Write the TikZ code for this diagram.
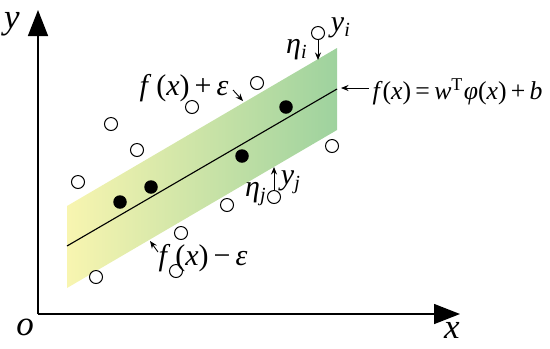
\documentclass[tikz,border=0pt]{standalone}
\usepackage{fontspec}
\setmainfont{Liberation Serif}
\usetikzlibrary{arrows.meta}
\definecolor{bandleft}{RGB}{248,245,176}
\definecolor{bandright}{RGB}{158,210,158}
\newcommand{\iv}[1]{\textit{#1}}
\tikzset{
  odot/.style={circle,draw=black,fill=white,line width=0.4pt,inner sep=0pt,minimum size=5.2pt},
  fdot/.style={circle,fill=black,inner sep=0pt,minimum size=5.4pt},
  axis/.style={line width=0.6pt,-{Triangle[length=10.4pt,width=8pt]}},
  lbl/.style={inner sep=0pt,font=\fontsize{12}{14}\selectfont},
  eql/.style={inner sep=0pt,font=\fontsize{10.3}{12}\selectfont},
  bigl/.style={inner sep=0pt,font=\fontsize{14}{16}\selectfont},
  ptr/.style={line width=0.35pt,-{Stealth[length=3pt,width=2.4pt]}},
}
\begin{document}
\begin{tikzpicture}[x=0.4pt,y=-0.4pt]
\useasboundingbox (0,0) rectangle (550,348);
% band
\coordinate (tl) at (67,206);
\coordinate (tr) at (337,48);
\coordinate (br) at (337,130);
\coordinate (bl) at (67,288);
\shade[left color=bandleft,right color=bandright] (tl) -- (tr) -- (br) -- (bl) -- cycle;
% regression line
\coordinate (la) at (67,246);
\coordinate (lb) at (337,89);
\draw[line width=0.45pt] (la) -- (lb);
% axes
\coordinate (orig) at (38,314);
\coordinate (ytip) at (38,10);
\coordinate (xtip) at (460,314);
\draw[axis] (orig) -- (ytip);
\draw[axis] (orig) -- (xtip);
\node[bigl] (ylab) at (12,24) {\iv{y}};
\node[bigl] (xlab) at (452,330) {\iv{x}};
\node[bigl] (olab) at (25,327) {\iv{o}};
% open points
\node[odot] (o1) at (78,182) {};
\node[odot] (o2) at (111,124) {};
\node[odot] (o3) at (137,150) {};
\node[odot] (o4) at (192,107) {};
\node[odot] (o5) at (257,83) {};
\node[odot] (yi) at (318,33) {};
\node[odot] (o7) at (332,146) {};
\node[odot] (o8) at (227,205) {};
\node[odot] (o9) at (181,233) {};
\node[odot] (o10) at (176,271) {};
\node[odot] (o11) at (96,277) {};
\node[odot] (yj) at (274,197) {};
% filled points
\node[fdot] (f1) at (120,202) {};
\node[fdot] (f2) at (151,187) {};
\node[fdot] (f3) at (242,156) {};
\node[fdot] (f4) at (286,107) {};
% eta arrows
\coordinate (yiend) at (318,60);
\coordinate (yjend) at (274,167);
\draw[ptr] (yi) -- (yiend);
\draw[ptr] (yj) -- (yjend);
\node[lbl] (etai) at (297,50) {\iv{η}\textsubscript{\iv{i}}};
\node[lbl] (yilab) at (341,28) {\iv{y}\textsubscript{\iv{i}}};
\node[lbl] (etaj) at (256,194) {\iv{η}\textsubscript{\iv{j}}};
\node[lbl] (yjlab) at (291,182) {\iv{y}\textsubscript{\iv{j}}};
% band labels
\node[lbl] (fplus) at (184,88) {\iv{f}\,(\iv{x})\,+\,\iv{ε}};
\coordinate (fpa) at (233,90);
\coordinate (fpb) at (243,101);
\draw[ptr] (fpa) -- (fpb);
\node[lbl] (fminus) at (203,258) {\iv{f}\,(\iv{x})\,−\,\iv{ε}};
\coordinate (fma) at (158,252);
\coordinate (fmb) at (150,241);
\draw[ptr] (fma) -- (fmb);
\node[eql,anchor=west] (feq) at (372,92) {\iv{f}(\iv{x})\,=\,\iv{w}\textsuperscript{T}\iv{φ}(\iv{x})\,+\,\iv{b}};
\coordinate (fea) at (369,88);
\coordinate (feb) at (341,88);
\draw[ptr] (fea) -- (feb);
\end{tikzpicture}
\end{document}
